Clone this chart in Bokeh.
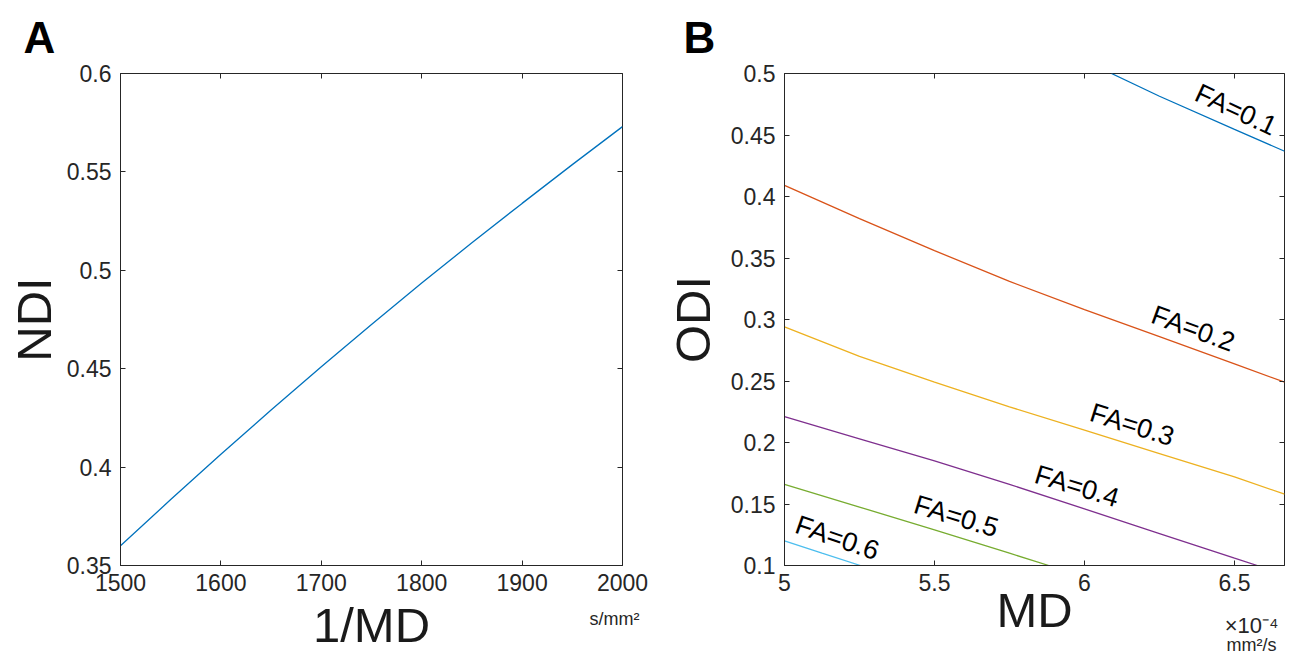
import numpy as np
from bokeh.plotting import figure
from bokeh.models import Range1d, LinearAxis, FixedTicker, Title
from bokeh.layouts import row
from bokeh.embed import file_html
from bokeh.resources import INLINE
from bokeh.core.properties import value

# ---------------- data ----------------
# Panel A : NDI vs 1/MD (s/mm^2)
inv_md = [1500, 1550, 1600, 1650, 1700, 1750, 1800, 1850, 1900, 1950, 2000]
ndi = [0.360, 0.3835, 0.4065, 0.429, 0.451, 0.4725, 0.4935, 0.514, 0.534, 0.5537, 0.573]
a_xticks = [1500, 1600, 1700, 1800, 1900, 2000]
a_xtick_labels = ["1500", "1600", "1700", "1800", "1900", "2000"]
a_yticks = [0.35, 0.4, 0.45, 0.5, 0.55, 0.6]
a_ytick_labels = ["0.35", "0.4", "0.45", "0.5", "0.55", "0.6"]
a_unit = "s/mm²"

# Panel B : ODI vs MD (x 1e-4 mm^2/s), iso-FA contours
fa_names = ["FA=0.1", "FA=0.2", "FA=0.3", "FA=0.4", "FA=0.5", "FA=0.6"]
md_fa01 = [6.09, 6.25, 6.5, 6.667]
odi_fa01 = [0.500, 0.4815, 0.4545, 0.4368]
md_fa02 = [5.0, 5.25, 5.5, 5.75, 6.0, 6.25, 6.5, 6.667]
odi_fa02 = [0.409, 0.382, 0.356, 0.331, 0.308, 0.286, 0.264, 0.249]
md_fa03 = [5.0, 5.25, 5.5, 5.75, 6.0, 6.25, 6.5, 6.667]
odi_fa03 = [0.294, 0.270, 0.249, 0.229, 0.210, 0.191, 0.172, 0.158]
md_fa04 = [5.0, 5.25, 5.5, 5.75, 6.0, 6.25, 6.5, 6.576]
odi_fa04 = [0.221, 0.203, 0.185, 0.166, 0.146, 0.126, 0.106, 0.100]
md_fa05 = [5.0, 5.25, 5.5, 5.75, 5.881]
odi_fa05 = [0.166, 0.1475, 0.129, 0.110, 0.100]
md_fa06 = [5.0, 5.125, 5.253]
odi_fa06 = [0.120, 0.110, 0.100]
b_xticks = [5, 5.5, 6, 6.5]
b_xtick_labels = ["5", "5.5", "6", "6.5"]
b_yticks = [0.1, 0.15, 0.2, 0.25, 0.3, 0.35, 0.4, 0.45, 0.5]
b_ytick_labels = ["0.1", "0.15", "0.2", "0.25", "0.3", "0.35", "0.4", "0.45", "0.5"]
b_scale = "×10⁻⁴"
b_unit = "mm²/s"

# ---------------- styling / layout ----------------
FONT = "Liberation Sans"
INK = "#262626"
colors = ["#0072BD", "#D95319", "#EDB120", "#7E2F8E", "#77AC30", "#4DBEEE"]
label_x = [6.505, 6.362, 6.159, 5.975, 5.572, 5.176]
label_ang = [-25, -20, -17.5, -17, -17, -19]
LABEL_DY = 0.0165
AXIS_LABEL_SIZE = "49px"

FIG_H = 656
FR_TOP, FR_H = 73, 492


def make_fig(width, left, frame_w, xr, yr):
    right = width - left - frame_w
    p = figure(width=width, height=FIG_H, x_range=Range1d(*xr), y_range=Range1d(*yr),
               output_backend="svg", toolbar_location=None, x_axis_location=None,
               min_border_left=left, min_border_right=right,
               min_border_top=FR_TOP, min_border_bottom=FIG_H - FR_TOP - FR_H)
    p.grid.visible = False
    p.outline_line_color = INK
    p.outline_line_width = 1
    p.background_fill_color = "white"
    p.border_fill_color = "white"
    return p


def base_style(ax, t, l):
    ax.ticker = FixedTicker(ticks=t)
    ax.major_label_overrides = dict(zip(t, l))
    ax.major_tick_in = 5
    ax.major_tick_out = 0
    ax.minor_tick_line_color = None
    ax.axis_line_color = INK
    ax.major_tick_line_color = INK
    ax.major_label_text_font = FONT
    ax.major_label_text_font_size = "23px"
    ax.major_label_text_color = INK
    ax.axis_label_text_font = FONT
    ax.axis_label_text_font_size = AXIS_LABEL_SIZE
    ax.axis_label_text_font_style = "normal"
    ax.axis_label_text_color = "#1a1a1a"


def text_axis(tick, text, size, standoff):
    ax = LinearAxis(ticker=FixedTicker(ticks=[tick]), major_label_overrides={tick: text},
                    major_label_text_font=FONT, major_label_text_font_size=size,
                    major_label_text_color=INK, major_label_standoff=standoff,
                    major_tick_out=0, major_tick_in=0, major_tick_line_color=None,
                    minor_tick_line_color=None, axis_line_color=None)
    ax.axis_label_text_font = FONT
    ax.axis_label_text_font_size = AXIS_LABEL_SIZE
    ax.axis_label_text_font_style = "normal"
    ax.axis_label_text_color = "#1a1a1a"
    return ax


def frame_ticks(p, xt, yt):
    for loc, t in (("above", xt), ("right", yt)):
        ax = LinearAxis(ticker=FixedTicker(ticks=t), major_label_text_font_size="0px",
                        major_label_standoff=0, major_tick_in=5, major_tick_out=0,
                        minor_tick_line_color=None, axis_line_color=None,
                        major_tick_line_color=INK)
        p.add_layout(ax, loc)


def letter(p, text):
    p.add_layout(Title(text=text, align="left", offset=-(p.min_border_left - 25) - 2,
                       text_font=FONT, text_font_size="44px", text_font_style="bold",
                       text_color="#000000", vertical_align="top", standoff=19), "above")


# ---- Panel A ----
pa = make_fig(660, 120, 502, (1500, 2000), (0.35, 0.6))
xa = LinearAxis()
base_style(xa, a_xticks, a_xtick_labels)
xa.major_label_standoff = 8
pa.add_layout(xa, "below")
ua = text_axis(1992, a_unit, "18px", 15)
ua.axis_label = "1/MD"
ua.axis_label_standoff = -34
pa.add_layout(ua, "below")
ya = pa.yaxis[0]
base_style(ya, a_yticks, a_ytick_labels)
ya.axis_label = "NDI"
ya.major_label_standoff = 9
ya.axis_label_standoff = 3
frame_ticks(pa, a_xticks, a_yticks)
letter(pa, "A")
pa.line(inv_md, ndi, line_color=colors[0], line_width=1.3)

# ---- Panel B ----
pb = make_fig(632, 124, 500, (5, 6.6667), (0.1, 0.5))
xb = LinearAxis()
base_style(xb, b_xticks, b_xtick_labels)
xb.major_label_standoff = 8
pb.add_layout(xb, "below")
sb = text_axis(6.557, b_scale, "22px", 19)
pb.add_layout(sb, "below")
ub = text_axis(6.557, b_unit, "18px", -6)
ub.axis_label = "MD"
ub.axis_label_standoff = -75
pb.add_layout(ub, "below")
yb = pb.yaxis[0]
base_style(yb, b_yticks, b_ytick_labels)
yb.axis_label = "ODI"
yb.major_label_standoff = 9
yb.axis_label_standoff = 8
frame_ticks(pb, b_xticks, b_yticks)
letter(pb, "B")

curves = [(md_fa01, odi_fa01), (md_fa02, odi_fa02), (md_fa03, odi_fa03),
          (md_fa04, odi_fa04), (md_fa05, odi_fa05), (md_fa06, odi_fa06)]
for (xs, ys), c in zip(curves, colors):
    pb.line(xs, ys, line_color=c, line_width=1.3)

ly = [float(np.interp(x, xs, ys)) + LABEL_DY for (xs, ys), x in zip(curves, label_x)]
pb.text(x=label_x, y=ly, text=fa_names, angle=[np.deg2rad(a) for a in label_ang],
        text_font=value(FONT), text_font_size=value("27px"), text_color="#000000",
        text_align="center", text_baseline="middle")

layout = row(pa, pb)
open("out.html", "w").write(file_html(layout, INLINE))
